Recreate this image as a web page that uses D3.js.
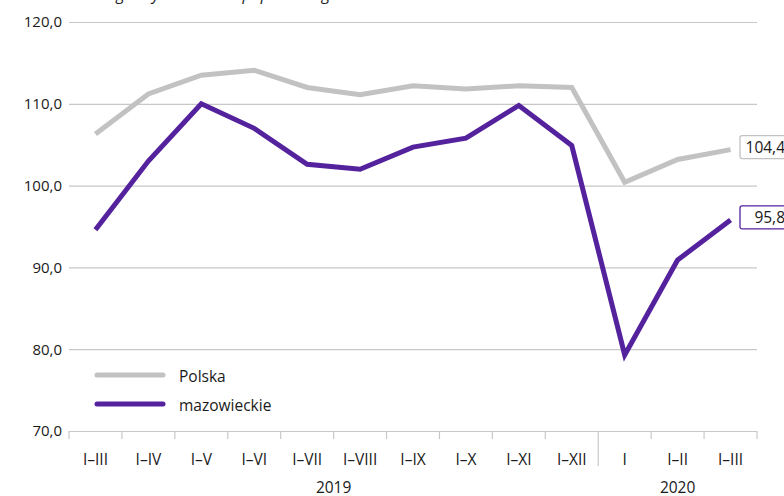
<!DOCTYPE html>
<style>
body { margin: 0; }
svg text { font-family: "Open Sans", sans-serif; fill: #1a1a1a; }
.grid .domain { display: none; }
.grid line { stroke: #c8c8c8; }
</style>
<svg width="784" height="496"></svg>
<script src="https://d3js.org/d3.v7.min.js"></script>
<script>
var periods = ["I–III","I–IV","I–V","I–VI","I–VII","I–VIII","I–IX","I–X","I–XI","I–XII","I","I–II","I–III"];
var years = [{label:"2019", from:0, to:10}, {label:"2020", from:10, to:13}];
var polska = [106.3,111.2,113.5,114.1,112.0,111.1,112.2,111.8,112.2,112.0,100.4,103.2,104.4];
var mazowieckie = [94.6,103.0,110.0,107.0,102.6,102.0,104.7,105.8,109.8,104.9,79.3,90.9,95.8];
var yTicks = [70,80,90,100,110,120];
var series = [
  {name:"Polska", values: polska, color:"#c2c2c2"},
  {name:"mazowieckie", values: mazowieckie, color:"#55229e"}
];

var svg = d3.select("svg"),
    plotLeft = 69, plotRight = 757, plotTop = 22, plotBottom = 431;

var x = d3.scaleBand().domain(d3.range(periods.length)).range([plotLeft, plotRight]);
var y = d3.scaleLinear().domain([70,120]).range([plotBottom, plotTop]);
var fmt = function(v) { return d3.format(".1f")(v).replace(".", ","); };

// title (cut off at the top of the picture)
svg.append("text")
    .attr("x", 76).attr("y", 0)
    .attr("font-style", "italic")
    .attr("font-size", 16)
    .text("analogiczny okres roku poprzedniego = 100");

// y axis with gridlines
var gy = svg.append("g")
    .attr("class", "grid")
    .attr("transform", "translate(" + plotLeft + ",0)")
    .call(d3.axisLeft(y).tickValues(yTicks).tickFormat(fmt).tickSize(-(plotRight - plotLeft)).tickPadding(7));
gy.selectAll("text").attr("font-size", 15).attr("fill", "#1a1a1a");
gy.selectAll("line").attr("stroke-width", 1.2);

// x axis ticks on band edges
var edges = d3.range(periods.length + 1);
svg.append("g").selectAll("line")
    .data(edges)
    .enter().append("line")
    .attr("x1", function(d) { return d < periods.length ? x(d) : plotRight; })
    .attr("x2", function(d) { return d < periods.length ? x(d) : plotRight; })
    .attr("y1", plotBottom)
    .attr("y2", function(d) { return d === 10 ? 466 : plotBottom + 8; })
    .attr("stroke", "#c8c8c8")
    .attr("stroke-width", 1.2);

svg.append("g").selectAll("text")
    .data(periods)
    .enter().append("text")
    .attr("x", function(d, i) { return x(i) + x.bandwidth() / 2; })
    .attr("y", 465)
    .attr("text-anchor", "middle")
    .attr("font-size", 15.5)
    .text(function(d) { return d; });

svg.append("g").selectAll("text")
    .data(years)
    .enter().append("text")
    .attr("x", function(d) { return (x(d.from) + (d.to < periods.length ? x(d.to) : plotRight)) / 2; })
    .attr("y", 493)
    .attr("text-anchor", "middle")
    .attr("font-size", 15.5)
    .text(function(d) { return d.label; });

// lines
var line = d3.line()
    .x(function(d, i) { return x(i) + x.bandwidth() / 2; })
    .y(function(d) { return y(d); });

svg.append("g").selectAll("path")
    .data(series)
    .enter().append("path")
    .attr("fill", "none")
    .attr("stroke", function(d) { return d.color; })
    .attr("stroke-width", 5)
    .attr("d", function(d) { return line(d.values); });

// end labels
var last = periods.length - 1;
var lab = svg.append("g").selectAll("g")
    .data(series)
    .enter().append("g")
    .attr("transform", function(d) { return "translate(740," + (y(d.values[last]) - 14) + ")"; });
lab.append("rect")
    .attr("width", 60).attr("height", 23).attr("rx", 2)
    .attr("fill", "#fff")
    .attr("stroke", function(d) { return d.color; })
    .attr("stroke-width", 1.3);
lab.append("text")
    .attr("x", 45).attr("y", 17)
    .attr("text-anchor", "end")
    .attr("font-size", 15.5)
    .text(function(d) { return fmt(d.values[last]); });

// legend
var leg = svg.append("g").selectAll("g")
    .data(series)
    .enter().append("g")
    .attr("transform", function(d, i) { return "translate(97," + (375 + i * 29) + ")"; });
leg.append("line")
    .attr("x1", 0).attr("x2", 66)
    .attr("stroke", function(d) { return d.color; })
    .attr("stroke-width", 5)
    .attr("stroke-linecap", "round");
leg.append("text")
    .attr("x", 82).attr("y", 7)
    .attr("font-size", 15.5)
    .text(function(d) { return d.name; });
</script>
